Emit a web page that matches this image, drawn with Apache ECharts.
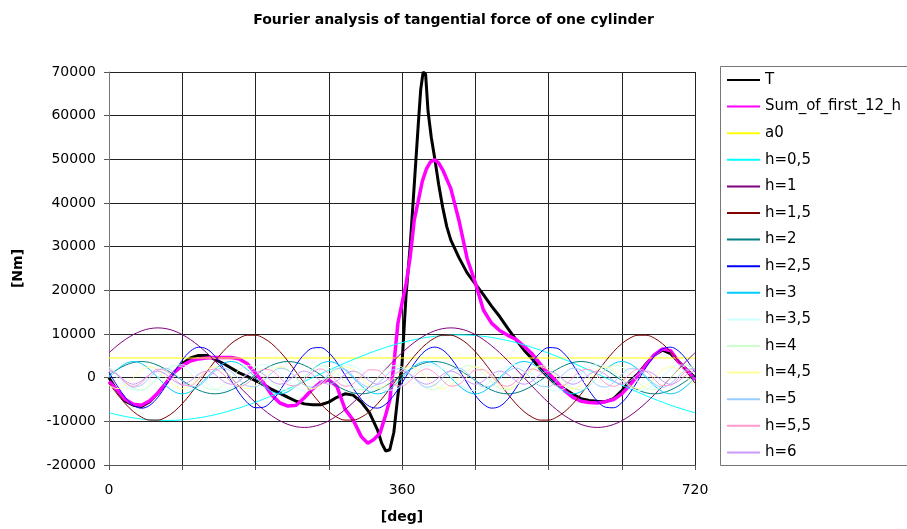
<!DOCTYPE html>
<html><head><meta charset="utf-8">
<script src="https://cdn.jsdelivr.net/npm/echarts@6/dist/echarts.min.js"></script>
<style>html,body{margin:0;padding:0;background:#fff}#c{width:907px;height:529px}</style>
</head><body><div id="c"></div>
<script>
// ---- data ----
const titleText = 'Fourier analysis of tangential force of one cylinder';
const xTickLabels = [0, 360, 720];

// T (tangential force) : angle [deg] / value [Nm]
const tDeg = [0,10,20,30,40,50,60,70,80,90,100,110,120,130,140,150,160,170,180,190,200,210,220,230,240,250,260,270,280,290,300,310,320,330,335,340,345,350,355,360,365,370,375,380,383,386,389,392,396,400,405,410,415,420,430,440,450,460,470,480,490,500,510,520,530,540,550,560,570,580,590,600,610,620,630,640,650,660,670,680,690,700,710,720];
const tVal = [0,-3000,-5400,-6300,-6600,-5500,-3500,-1200,1200,3200,4500,5100,5100,4200,3300,2200,1100,300,-700,-1600,-2700,-3600,-4500,-5400,-6000,-6200,-6200,-5600,-4500,-3700,-4000,-5600,-8000,-12000,-15000,-16800,-16500,-12500,-4000,3000,19000,30000,44000,58000,66000,70000,69500,61000,55000,50500,44300,39000,34600,31500,27500,24000,21500,19000,16400,14000,11300,8700,6300,4300,2000,0,-1500,-2600,-3800,-4800,-5200,-5400,-5500,-4800,-3000,-800,900,3200,5200,6300,5500,3600,1800,0];

// Sum of first 12 harmonics
const sDeg = [0,10,20,30,40,50,60,70,80,90,100,110,120,130,140,150,160,170,180,190,200,210,220,230,240,250,260,270,280,290,300,310,318,325,333,340,345,350,355,360,365,370,375,380,385,390,395,400,405,410,420,430,440,450,460,470,480,490,500,510,520,530,540,550,560,570,580,590,600,610,620,630,640,650,660,670,680,690,700,710,720];
const sVal = [-900,-2800,-5000,-6100,-6300,-5300,-3500,-1300,1200,2700,3800,4300,4500,4600,4600,4600,4300,3200,1000,-1200,-4000,-5800,-6500,-6300,-4600,-2600,-1100,-500,-2000,-7200,-9700,-13500,-15000,-14200,-12700,-8500,-5100,3000,12500,17000,21500,27500,36000,40500,45000,47800,49400,49900,49200,47600,43300,36000,27300,21800,15500,12500,10800,9700,8800,7200,5400,3100,1000,-900,-3000,-4500,-5400,-5700,-5800,-5500,-5000,-3700,-1700,600,3000,5200,6600,6200,3600,1600,-500];

// a0 (mean value)
const a0Deg = [0, 720];
const a0Val = [4500, 4500];

// harmonics sampled every 10 deg
const angles = [0,10,20,30,40,50,60,70,80,90,100,110,120,130,140,150,160,170,180,190,200,210,220,230,240,250,260,270,280,290,300,310,320,330,340,350,360,370,380,390,400,410,420,430,440,450,460,470,480,490,500,510,520,530,540,550,560,570,580,590,600,610,620,630,640,650,660,670,680,690,700,710,720];

const h05 = [-8028,-8487,-8882,-9209,-9466,-9651,-9763,-9800,-9763,-9651,-9466,-9209,-8882,-8487,-8028,-7507,-6930,-6299,-5621,-4900,-4142,-3352,-2536,-1702,-854,0,854,1702,2536,3352,4142,4900,5621,6299,6930,7507,8028,8487,8882,9209,9466,9651,9763,9800,9763,9651,9466,9209,8882,8487,8028,7507,6930,6299,5621,4900,4142,3352,2536,1702,854,0,-854,-1702,-2536,-3352,-4142,-4900,-5621,-6299,-6930,-7507,-8028];
const h10 = [5700,7328,8733,9873,10713,11227,11400,11227,10713,9873,8733,7328,5700,3899,1980,0,-1980,-3899,-5700,-7328,-8733,-9873,-10713,-11227,-11400,-11227,-10713,-9873,-8733,-7328,-5700,-3899,-1980,0,1980,3899,5700,7328,8733,9873,10713,11227,11400,11227,10713,9873,8733,7328,5700,3899,1980,0,-1980,-3899,-5700,-7328,-8733,-9873,-10713,-11227,-11400,-11227,-10713,-9873,-8733,-7328,-5700,-3899,-1980,0,1980,3899,5700];
const h15 = [-1279,-3750,-5966,-7775,-9054,-9716,-9716,-9054,-7775,-5966,-3750,-1279,1279,3750,5966,7775,9054,9716,9716,9054,7775,5966,3750,1279,-1279,-3750,-5966,-7775,-9054,-9716,-9716,-9054,-7775,-5966,-3750,-1279,1279,3750,5966,7775,9054,9716,9716,9054,7775,5966,3750,1279,-1279,-3750,-5966,-7775,-9054,-9716,-9716,-9054,-7775,-5966,-3750,-1279,1279,3750,5966,7775,9054,9716,9716,9054,7775,5966,3750,1279,-1279];
const h20 = [642,1850,2834,3477,3700,3477,2834,1850,642,-642,-1850,-2834,-3477,-3700,-3477,-2834,-1850,-642,642,1850,2834,3477,3700,3477,2834,1850,642,-642,-1850,-2834,-3477,-3700,-3477,-2834,-1850,-642,642,1850,2834,3477,3700,3477,2834,1850,642,-642,-1850,-2834,-3477,-3700,-3477,-2834,-1850,-642,642,1850,2834,3477,3700,3477,2834,1850,642,-642,-1850,-2834,-3477,-3700,-3477,-2834,-1850,-642,642];
const h25 = [1215,-1812,-4500,-6344,-7000,-6344,-4500,-1812,1215,4015,6062,6973,6578,4950,2394,-610,-3500,-5734,-6894,-6761,-5362,-2958,0,2958,5362,6761,6894,5734,3500,610,-2394,-4950,-6578,-6973,-6062,-4015,-1215,1812,4500,6344,7000,6344,4500,1812,-1215,-4015,-6062,-6973,-6578,-4950,-2394,610,3500,5734,6894,6761,5362,2958,0,-2958,-5362,-6761,-6894,-5734,-3500,-610,2394,4950,6578,6973,6062,4015,1215];
const h30 = [0,1850,3204,3700,3204,1850,0,-1850,-3204,-3700,-3204,-1850,0,1850,3204,3700,3204,1850,0,-1850,-3204,-3700,-3204,-1850,0,1850,3204,3700,3204,1850,0,-1850,-3204,-3700,-3204,-1850,0,1850,3204,3700,3204,1850,0,-1850,-3204,-3700,-3204,-1850,0,1850,3204,3700,3204,1850,0,-1850,-3204,-3700,-3204,-1850,0,1850,3204,3700,3204,1850,0,-1850,-3204,-3700,-3204,-1850,0];
const h35 = [1721,0,-1721,-2819,-2898,-1928,-261,1500,2719,2954,2121,521,-1268,-2598,-2989,-2298,-776,1026,2458,3000,2458,1026,-776,-2298,-2989,-2598,-1268,521,2121,2954,2719,1500,-261,-1928,-2898,-2819,-1721,0,1721,2819,2898,1928,261,-1500,-2719,-2954,-2121,-521,1268,2598,2989,2298,776,-1026,-2458,-3000,-2458,-1026,776,2298,2989,2598,1268,-521,-2121,-2954,-2719,-1500,261,1928,2898,2819,1721];
const h40 = [2425,958,-958,-2425,-2757,-1800,0,1800,2757,2425,958,-958,-2425,-2757,-1800,0,1800,2757,2425,958,-958,-2425,-2757,-1800,0,1800,2757,2425,958,-958,-2425,-2757,-1800,0,1800,2757,2425,958,-958,-2425,-2757,-1800,0,1800,2757,2425,958,-958,-2425,-2757,-1800,0,1800,2757,2425,958,-958,-2425,-2757,-1800,0,1800,2757,2425,958,-958,-2425,-2757,-1800,0,1800,2757,2425];
const h45 = [-1768,-2500,-1768,0,1768,2500,1768,0,-1768,-2500,-1768,0,1768,2500,1768,0,-1768,-2500,-1768,0,1768,2500,1768,0,-1768,-2500,-1768,0,1768,2500,1768,0,-1768,-2500,-1768,0,1768,2500,1768,0,-1768,-2500,-1768,0,1768,2500,1768,0,-1768,-2500,-1768,0,1768,2500,1768,0,-1768,-2500,-1768,0,1768,2500,1768,0,-1768,-2500,-1768,0,1768,2500,1768,0,-1768];
const h50 = [2067,752,-1100,-2167,-1685,0,1685,2167,1100,-752,-2067,-1905,-382,1414,2200,1414,-382,-1905,-2067,-752,1100,2167,1685,0,-1685,-2167,-1100,752,2067,1905,382,-1414,-2200,-1414,382,1905,2067,752,-1100,-2167,-1685,0,1685,2167,1100,-752,-2067,-1905,-382,1414,2200,1414,-382,-1905,-2067,-752,1100,2167,1685,0,-1685,-2167,-1100,752,2067,1905,382,-1414,-2200,-1414,382,1905,2067];
const h55 = [1932,684,-1147,-2000,-1147,684,1932,1532,-174,-1732,-1813,-347,1414,1970,845,-1000,-1992,-1286,518,1879,1638,0,-1638,-1879,-518,1286,1992,1000,-845,-1970,-1414,347,1813,1732,174,-1532,-1932,-684,1147,2000,1147,-684,-1932,-1532,174,1732,1813,347,-1414,-1970,-845,1000,1992,1286,-518,-1879,-1638,0,1638,1879,518,-1286,-1992,-1000,845,1970,1414,-347,-1813,-1732,-174,1532,1932];
const h60 = [1500,750,-750,-1500,-750,750,1500,750,-750,-1500,-750,750,1500,750,-750,-1500,-750,750,1500,750,-750,-1500,-750,750,1500,750,-750,-1500,-750,750,1500,750,-750,-1500,-750,750,1500,750,-750,-1500,-750,750,1500,750,-750,-1500,-750,750,1500,750,-750,-1500,-750,750,1500,750,-750,-1500,-750,750,1500,750,-750,-1500,-750,750,1500,750,-750,-1500,-750,750,1500];

const seriesNames = ['T','Sum_of_first_12_h','a0','h=0,5','h=1','h=1,5','h=2','h=2,5','h=3','h=3,5','h=4','h=4,5','h=5','h=5,5','h=6'];
const seriesColors = ['#000000','#FF00FF','#FFFF00','#00FFFF','#800080','#800000','#008080','#0000FF','#00CCFF','#CCFFFF','#CCFFCC','#FFFF99','#99CCFF','#FF99CC','#CC99FF'];

// ---- build ----
const zip = (xs, ys) => xs.map((x, i) => [x, ys[i]]);
const dataSets = [
  zip(tDeg, tVal), zip(sDeg, sVal), zip(a0Deg, a0Val),
  zip(angles, h05), zip(angles, h10), zip(angles, h15), zip(angles, h20), zip(angles, h25),
  zip(angles, h30), zip(angles, h35), zip(angles, h40), zip(angles, h45), zip(angles, h50),
  zip(angles, h55), zip(angles, h60)
];
const widths = [3, 3.5, 1.2, 1, 1, 1, 1, 1, 1, 1, 1, 1, 1, 1, 1];

const series = dataSets.map((d, i) => ({
  name: seriesNames[i],
  type: 'line',
  data: d,
  symbol: 'none',
  smooth: i >= 3 ? 0.35 : false,
  lineStyle: { color: seriesColors[i], width: widths[i] },
  itemStyle: { color: seriesColors[i] },
  emphasis: { disabled: true },
  clip: true
}));

const FONT = 'DejaVu Sans';
const chart = echarts.init(document.getElementById('c'), null, { renderer: 'canvas' });
chart.setOption({
  animation: false,
  backgroundColor: '#ffffff',
  title: {
    text: titleText, left: 'center', top: 8,
    textStyle: { fontFamily: FONT, fontWeight: 'bold', fontSize: 14, color: '#000' }
  },
  grid: { left: 109, right: 212, top: 72, bottom: 63 },
  xAxis: {
    type: 'value', min: 0, max: 720, interval: 90,
    name: '[deg]', nameLocation: 'middle', nameGap: 45,
    nameTextStyle: { fontFamily: FONT, fontWeight: 'bold', fontSize: 14, color: '#000' },
    axisLine: { onZero: false, lineStyle: { color: '#555', width: 1 } },
    axisTick: { show: true, inside: false, length: 5, lineStyle: { color: '#555' } },
    axisLabel: {
      fontFamily: FONT, fontSize: 14, color: '#000', margin: 18,
      formatter: v => (xTickLabels.indexOf(v) >= 0 ? String(v) : '')
    },
    splitLine: { show: true, lineStyle: { color: '#222', width: 1 } }
  },
  yAxis: {
    type: 'value', min: -20000, max: 70000, interval: 10000,
    name: '[Nm]', nameLocation: 'middle', nameGap: 84, nameRotate: 90,
    nameTextStyle: { fontFamily: FONT, fontWeight: 'bold', fontSize: 14, color: '#000' },
    axisLine: { show: true, lineStyle: { color: '#777', width: 1 } },
    axisTick: { show: true, inside: false, length: 5, lineStyle: { color: '#555' } },
    axisLabel: { fontFamily: FONT, fontSize: 14, color: '#000', margin: 13, formatter: v => String(v) },
    splitLine: { show: true, lineStyle: { color: '#222', width: 1 } }
  },
  legend: {
    orient: 'vertical', left: 721, top: 67,
    padding: [5.5, 10, 6.5, 5],
    itemGap: 11.6, itemWidth: 33, itemHeight: 14,
    selectedMode: false,
    itemStyle: { opacity: 0 },
    textStyle: { fontFamily: FONT, fontSize: 15, color: '#000' },
    data: seriesNames
  },
  graphic: [{
    type: 'rect', z: -1, silent: true,
    shape: { x: 720.5, y: 66.5, width: 300, height: 399 },
    style: { fill: 'none', stroke: '#777', lineWidth: 1 }
  }],
  series: series
});
</script>
</body></html>
